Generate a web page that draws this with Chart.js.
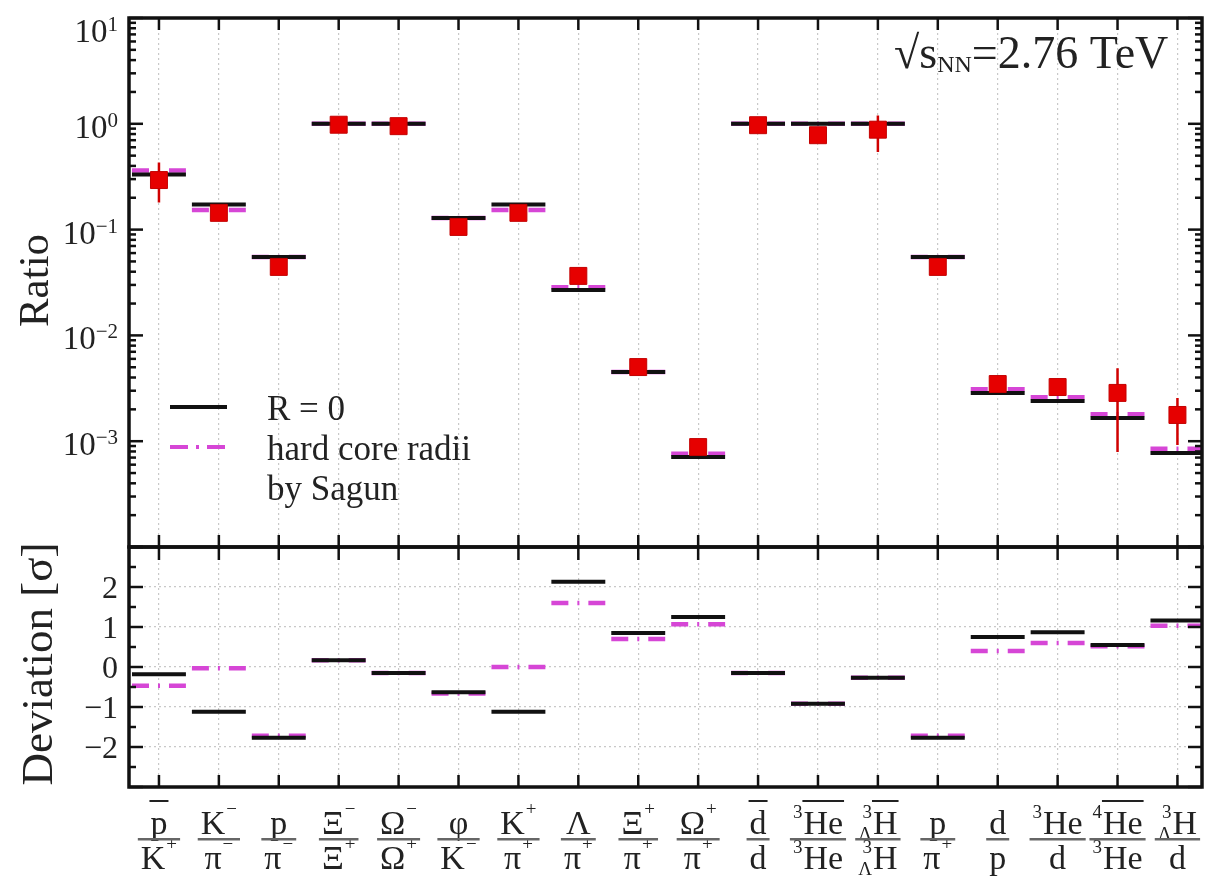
<!DOCTYPE html>
<html>
<head>
	<title>ParticleRatios</title>
	<style>
		html, body { margin: 0; padding: 0; background: #fff; }
		#wrap { width: 1215px; height: 878px; }
	</style>
	<script src="https://cdn.jsdelivr.net/npm/chart.js"></script>
</head>
<body>
	<div id="wrap"><canvas id="ratioChart" width="1215" height="878"></canvas></div>

	<script>
		// ratio labels, markup: ^n prefix sup, _X prefix sub, ~ overline, ^s trailing sup
		const numerators   = ['~p', 'K^−', 'p', 'Ξ^−', 'Ω^−', 'φ', 'K^+', 'Λ', 'Ξ^+', 'Ω^+', '~d', '^3~He', '^3_Λ~H', 'p', 'd', '^3He', '^4~He', '^3_ΛH'];
		const denominators = ['K^+', 'π^−', 'π^−', 'Ξ^+', 'Ω^+', 'K^−', 'π^+', 'π^+', 'π^+', 'π^+', 'd', '^3He', '^3_ΛH', 'π^+', 'p', 'd', '^3He', 'd'];

		// measured ratios (red squares) and error bars
		const measured = [0.294, 0.144, 0.0444, 0.98, 0.95, 0.106, 0.144, 0.0365, 0.00502, 0.00088, 0.97, 0.78, 0.88, 0.0444, 0.00347, 0.00325, 0.00286, 0.00177];
		const errLow   = [0.18, null, null, null, null, null, null, null, null, null, null, null, 0.54, null, null, 0.0027, 0.00079, 0.00092];
		const errHigh  = [0.43, null, null, null, null, null, null, null, null, null, null, null, 1.2, null, null, 0.0039, 0.0049, 0.00256];

		// model ratios
		const ratioR0    = [0.332, 0.1726, 0.055, 1.0, 1.0, 0.129, 0.1726, 0.0268, 0.00451, 0.00071, 1.0, 1.0, 1.0, 0.055, 0.00286, 0.0024, 0.00166, 0.000775];
		const ratioSagun = [0.362, 0.153, 0.055, 1.0, 1.0, 0.129, 0.153, 0.0285, 0.00451, 0.00076, 1.0, 1.0, 1.0, 0.055, 0.0031, 0.0026, 0.0018, 0.00085];

		// deviation in sigma
		const devR0    = [-0.18, -1.12, -1.77, 0.17, -0.15, -0.63, -1.12, 2.13, 0.85, 1.25, -0.15, -0.92, -0.27, -1.77, 0.75, 0.87, 0.55, 1.16];
		const devSagun = [-0.47, -0.03, -1.72, 0.17, -0.15, -0.66, 0.0, 1.6, 0.7, 1.07, -0.15, -0.92, -0.27, -1.72, 0.40, 0.60, 0.52, 1.03];

		const SERIF = '"Liberation Serif", "Times New Roman", serif';
		const MAGENTA = '#d646d6';
		const HALF = 0.45;

		function segments(vals) {
			const pts = [];
			vals.forEach((v, i) => {
				pts.push({x: i - HALF, y: v}, {x: i + HALF, y: v}, {x: i + 0.5, y: null});
			});
			return pts;
		}

		function errorBars(lo, hi) {
			const pts = [];
			lo.forEach((v, i) => {
				if (v === null) return;
				pts.push({x: i, y: v}, {x: i, y: hi[i]}, {x: i, y: null});
			});
			return pts;
		}

		function parseLabel(s) {
			const m = s.match(/^(?:\^(\d))?(?:_(.))?(~)?([^\^]+)(?:\^(.))?$/);
			return {pre: m[1] || '', preSub: m[2] || '', bar: !!m[3], base: m[4], sup: m[5] || ''};
		}

		const LABEL_FONT = '34px ' + SERIF;
		const SMALL_FONT = '19px ' + SERIF;

		function drawPart(ctx, spec, cx, base) {
			const p = parseLabel(spec);
			ctx.font = SMALL_FONT;
			const preW = (p.pre || p.preSub) ? Math.max(ctx.measureText(p.pre).width, ctx.measureText(p.preSub).width) + 1 : 0;
			const supW = p.sup ? ctx.measureText(p.sup).width + 1 : 0;
			ctx.font = LABEL_FONT;
			const bw = ctx.measureText(p.base).width;
			const total = preW + bw + supW;
			const x0 = cx - total / 2;
			ctx.font = SMALL_FONT;
			if (p.pre) ctx.fillText(p.pre, x0 + preW - 1 - ctx.measureText(p.pre).width, base - 16);
			if (p.preSub) ctx.fillText(p.preSub, x0 + preW - 1 - ctx.measureText(p.preSub).width, base + 6);
			if (p.sup) ctx.fillText(p.sup, x0 + preW + bw + 1, base - 19);
			ctx.font = LABEL_FONT;
			ctx.fillText(p.base, x0 + preW, base);
			if (p.bar) ctx.fillRect(x0 + preW - 1, base - 34, bw + 2, 2);
			return total;
		}

		const decoPlugin = {
			id: 'deco',
			afterDraw(chart) {
				const {ctx, chartArea: ca} = chart;
				const x = chart.scales.x, y = chart.scales.y, y2 = chart.scales.y2;
				ctx.save();
				ctx.fillStyle = '#222';
				ctx.strokeStyle = '#111';
				ctx.textAlign = 'left';
				ctx.textBaseline = 'alphabetic';

				const line = (x1, y1, x2, y2b) => { ctx.beginPath(); ctx.moveTo(x1, y1); ctx.lineTo(x2, y2b); ctx.stroke(); };

				// ticks on category axes
				ctx.lineWidth = 2.5;
				for (let i = 0; i < numerators.length; i++) {
					const px = x.getPixelForValue(i);
					line(px, y.top, px, y.top + 12);
					line(px, y.bottom, px, y.bottom - 12);
					line(px, y2.top, px, y2.top + 13);
					line(px, y2.bottom, px, y2.bottom - 12);
				}
				// log ticks
				for (let e = -4; e <= 1; e++) {
					for (let m = 1; m <= 9; m++) {
						const v = m * Math.pow(10, e);
						if (v > 10.0001) break;
						const py = y.getPixelForValue(v);
						const len = m === 1 ? 14 : 7;
						line(ca.left, py, ca.left + len, py);
						line(ca.right, py, ca.right - len, py);
					}
				}
				// deviation ticks
				for (let v = -3; v <= 3; v += 0.5) {
					const py = y2.getPixelForValue(v);
					const len = Number.isInteger(v) ? 14 : 7;
					line(ca.left, py, ca.left + len, py);
					line(ca.right, py, ca.right - len, py);
				}

				// frames
				ctx.lineWidth = 3.5;
				ctx.strokeRect(ca.left, y.top, ca.right - ca.left, y.bottom - y.top);
				ctx.strokeRect(ca.left, y2.top, ca.right - ca.left, y2.bottom - y2.top);

				// log labels
				for (let e = -3; e <= 1; e++) {
					const py = y.getPixelForValue(Math.pow(10, e));
					const expTxt = e < 0 ? '−' + (-e) : String(e);
					ctx.font = '21px ' + SERIF;
					const ew = ctx.measureText(expTxt).width;
					ctx.font = '33px ' + SERIF;
					const bw = ctx.measureText('10').width;
					const right = ca.left - 11;
					const base = Math.max(py + 14, y.top + 24);
					ctx.fillText('10', right - ew - bw, base);
					ctx.font = '21px ' + SERIF;
					ctx.fillText(expTxt, right - ew, base - 11);
				}
				// deviation labels
				ctx.font = '32px ' + SERIF;
				ctx.textAlign = 'right';
				for (let v = -2; v <= 2; v++) {
					const py = y2.getPixelForValue(v);
					ctx.fillText(v < 0 ? '−' + (-v) : String(v), ca.left - 11, py + 11);
				}

				// axis titles
				ctx.textAlign = 'center';
				ctx.font = '43px ' + SERIF;
				ctx.save();
				ctx.translate(48, (y.top + y.bottom) / 2 - 2);
				ctx.rotate(-Math.PI / 2);
				ctx.fillText('Ratio', 0, 0);
				ctx.restore();
				ctx.font = '45px ' + SERIF;
				ctx.save();
				ctx.translate(52, (y2.top + y2.bottom) / 2 - 3);
				ctx.rotate(-Math.PI / 2);
				ctx.fillText('Deviation [σ]', 0, 0);
				ctx.restore();

				// fraction labels
				ctx.textAlign = 'left';
				const numBase = ca.bottom + 47, denBase = ca.bottom + 82;
				for (let i = 0; i < numerators.length; i++) {
					const cx = x.getPixelForValue(i);
					ctx.fillStyle = '#222';
					const w1 = drawPart(ctx, numerators[i], cx, numBase);
					const w2 = drawPart(ctx, denominators[i], cx, denBase);
					const bw = Math.max(w1, w2) + 6;
					ctx.fillStyle = '#666';
					ctx.fillRect(cx - bw / 2, numBase + 4, bw, 2.5);
				}

				// legend
				ctx.fillStyle = '#222';
				ctx.lineWidth = 4;
				ctx.strokeStyle = '#111';
				line(170, 407, 227, 407);
				ctx.strokeStyle = MAGENTA;
				ctx.setLineDash([18, 8, 3, 8]);
				line(170, 447, 227, 447);
				ctx.setLineDash([]);
				ctx.font = '35px ' + SERIF;
				ctx.fillText('R = 0', 267, 420);
				ctx.fillText('hard core radii', 267, 460);
				ctx.fillText('by Sagun', 267, 500);

				// energy annotation
				let ax = 894;
				const ab = 68;
				ctx.font = '46px ' + SERIF;
				ctx.fillText('√', ax, ab); ax += ctx.measureText('√').width;
				ctx.fillText('s', ax, ab); ax += ctx.measureText('s').width;
				ctx.font = '24px ' + SERIF;
				ctx.fillText('NN', ax, ab + 4); ax += ctx.measureText('NN').width;
				ctx.font = '46px ' + SERIF;
				ctx.fillText('=2.76 TeV', ax, ab);

				ctx.restore();
			}
		};

		Chart.defaults.font.family = SERIF;

		const ctx = document.getElementById('ratioChart').getContext('2d');
		const chart = new Chart(ctx, {
			type: 'scatter',
			data: {
				datasets: [
					{
						label: 'data',
						data: measured.map((v, i) => ({x: i, y: v})),
						yAxisID: 'y',
						pointStyle: 'rect',
						pointRadius: 12,
						backgroundColor: '#e60000',
						borderColor: '#c40000',
						borderWidth: 1
					},
					{
						label: 'errors',
						data: errorBars(errLow, errHigh),
						yAxisID: 'y',
						showLine: true,
						spanGaps: false,
						pointRadius: 0,
						borderColor: '#d00000',
						borderWidth: 2.5
					},
					{
						label: 'R = 0',
						data: segments(ratioR0),
						yAxisID: 'y',
						showLine: true,
						spanGaps: false,
						pointRadius: 0,
						borderColor: '#111',
						borderWidth: 4
					},
					{
						label: 'hard core radii by Sagun',
						data: segments(ratioSagun),
						yAxisID: 'y',
						showLine: true,
						spanGaps: false,
						pointRadius: 0,
						borderColor: MAGENTA,
						borderWidth: 4.5,
						borderDash: [17, 9, 2, 9]
					},
					{
						label: 'dev R = 0',
						data: segments(devR0),
						yAxisID: 'y2',
						showLine: true,
						spanGaps: false,
						pointRadius: 0,
						borderColor: '#111',
						borderWidth: 4
					},
					{
						label: 'dev Sagun',
						data: segments(devSagun),
						yAxisID: 'y2',
						showLine: true,
						spanGaps: false,
						pointRadius: 0,
						borderColor: MAGENTA,
						borderWidth: 4.5,
						borderDash: [17, 9, 2, 9]
					}
				]
			},
			options: {
				responsive: false,
				animation: false,
				devicePixelRatio: 1,
				layout: { padding: { top: 18, right: 2, left: 0, bottom: 0 } },
				plugins: {
					legend: { display: false },
					tooltip: { enabled: false }
				},
				scales: {
					x: {
						type: 'linear',
						position: 'bottom',
						min: -0.5,
						max: 17.41,
						afterFit: s => { s.height = 91; },
						ticks: { display: false, stepSize: 1, includeBounds: false },
						grid: { color: '#c8c8c8', lineWidth: 1.2, drawTicks: false },
						border: { display: false, dash: [2, 3] }
					},
					y: {
						type: 'logarithmic',
						position: 'left',
						stack: 'panels',
						stackWeight: 529,
						weight: 1,
						min: 1e-4,
						max: 10,
						afterFit: s => { s.width = 129; },
						ticks: { display: false },
						grid: { display: false },
						border: { display: false }
					},
					y2: {
						type: 'linear',
						position: 'left',
						stack: 'panels',
						stackWeight: 240,
						weight: 0,
						min: -3,
						max: 3,
						afterFit: s => { s.width = 129; },
						ticks: { display: false, stepSize: 1 },
						grid: { color: '#c8c8c8', lineWidth: 1.2, drawTicks: false },
						border: { display: false, dash: [2, 3] }
					}
				}
			},
			plugins: [decoPlugin]
		});
	</script>
</body>
</html>
